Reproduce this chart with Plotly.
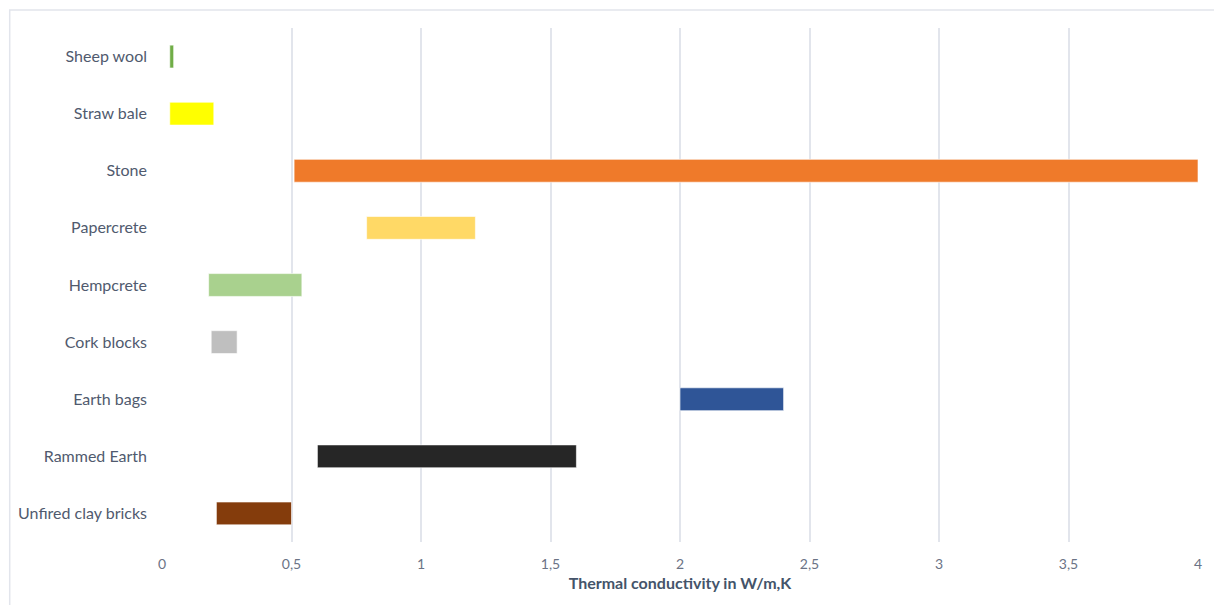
import plotly.graph_objects as go

materials = ["Sheep wool", "Straw bale", "Stone", "Papercrete", "Hempcrete",
             "Cork blocks", "Earth bags", "Rammed Earth", "Unfired clay bricks"]
low_values = [0.03, 0.03, 0.51, 0.79, 0.18, 0.19, 2.0, 0.6, 0.21]
high_values = [0.045, 0.2, 4.0, 1.21, 0.54, 0.29, 2.4, 1.6, 0.5]
bar_colors = ["#70AD47", "#FFFF00", "#EF7A2A", "#FFD966", "#A9D18E",
              "#BFBFBF", "#2F5597", "#262626", "#843C0C"]
x_ticks = [0, 0.5, 1, 1.5, 2, 2.5, 3, 3.5, 4]
x_tick_labels = ["0", "0,5", "1", "1,5", "2", "2,5", "3", "3,5", "4"]

widths = [h - l for l, h in zip(low_values, high_values)]

fig = go.Figure()
fig.add_trace(go.Bar(
    y=materials, x=widths, base=low_values, orientation="h",
    marker=dict(color=bar_colors, line=dict(color="rgba(255,255,255,0.6)", width=1)),
    width=0.4, hoverinfo="skip", showlegend=False,
))

fig.update_layout(
    width=1214, height=605,
    margin=dict(l=162, r=16, t=28, b=63),
    paper_bgcolor="white", plot_bgcolor="white",
    font=dict(family="Lato, 'Open Sans', sans-serif", color="#5B6375"),
    xaxis=dict(
        range=[0, 4], tickvals=x_ticks, ticktext=x_tick_labels,
        showgrid=True, gridcolor="#E2E5EC", gridwidth=1.5,
        zeroline=False, showline=False, ticks="",
        tickfont=dict(size=14, color="#6B7385"), ticklabelstandoff=12,
        title=dict(text="<b>Thermal conductivity in W/m,K</b>",
                   font=dict(size=16, color="#44546A"), standoff=6),
    ),
    yaxis=dict(
        categoryorder="array", categoryarray=materials, autorange="reversed",
        showgrid=False, zeroline=False, showline=False, ticks="",
        tickfont=dict(size=16, color="#505A6E"), ticklabelstandoff=14,
    ),
    shapes=[dict(type="rect", xref="paper", yref="paper",
                 x0=-0.147, x1=1.03, y0=-0.2, y1=1.035,
                 line=dict(color="#E2E5EC", width=1.5), layer="below")],
)

fig.write_html("out.html")
